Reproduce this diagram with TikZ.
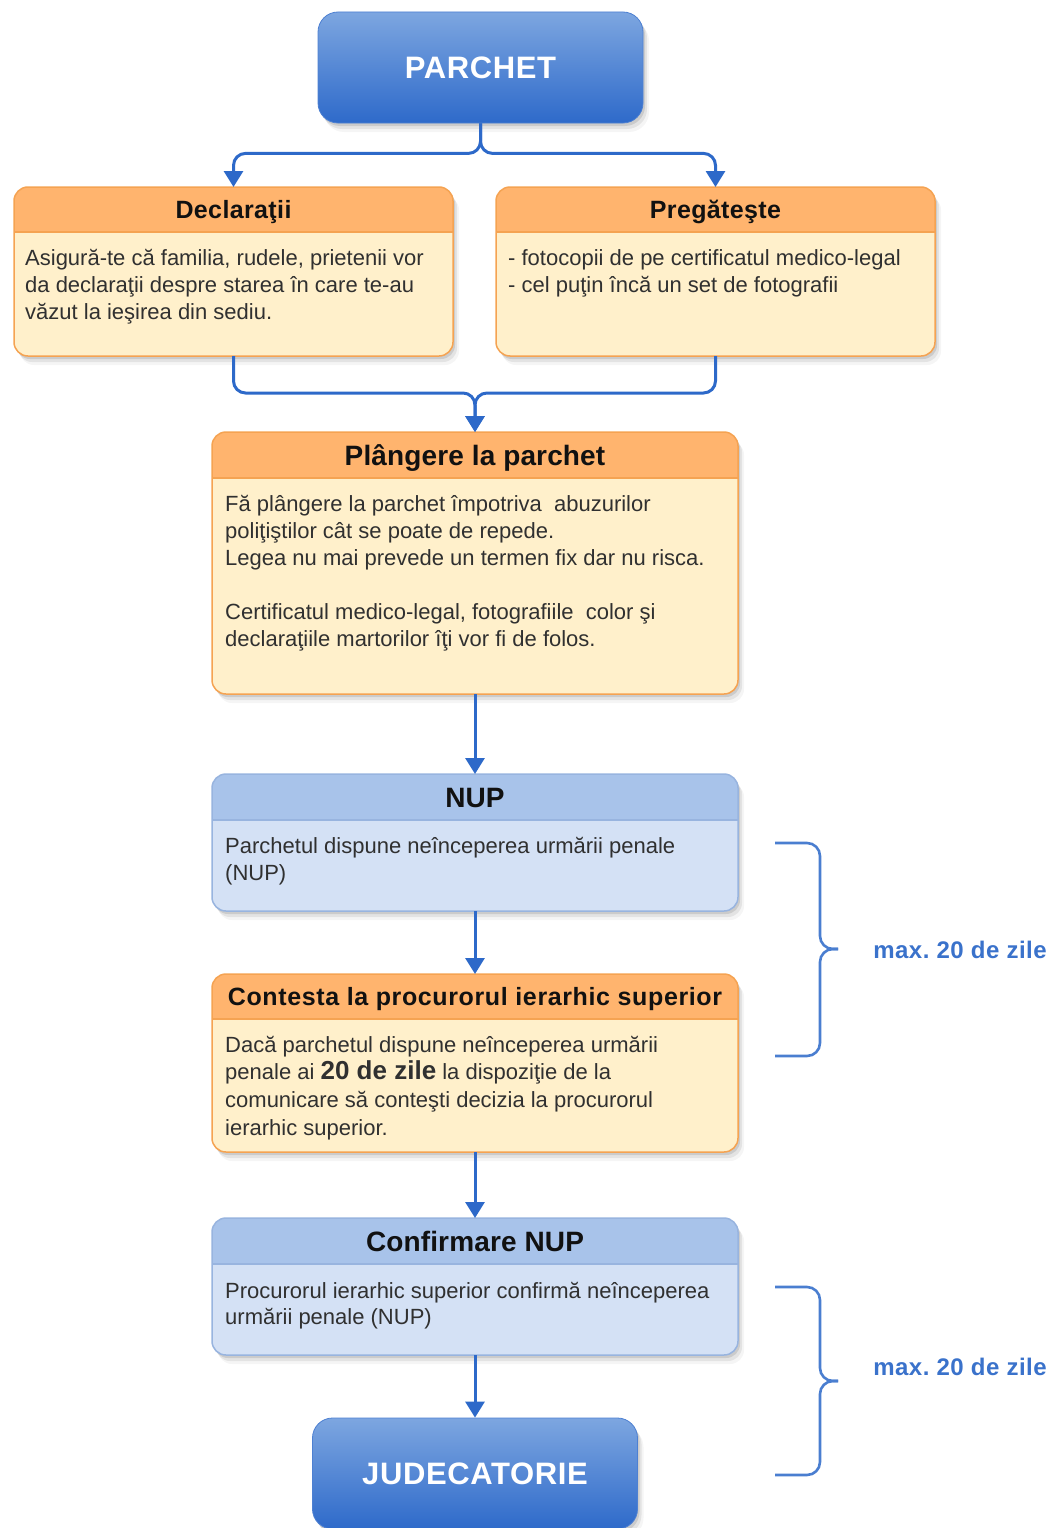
\documentclass[tikz,border=0pt]{standalone}
\usepackage{fontspec}
\setmainfont{Liberation Sans}
\newfontfamily\fhdrA[LetterSpace=1.5]{Liberation Sans}
\newfontfamily\fhdrB[LetterSpace=0.5]{Liberation Sans}
\newfontfamily\fhdrC[LetterSpace=2.5]{Liberation Sans}
\newfontfamily\fmaxlbl[LetterSpace=2]{Liberation Sans}
\newfontfamily\fbtn[LetterSpace=2]{Liberation Sans}
\usetikzlibrary{arrows.meta,shadows}

\definecolor{cblue}{HTML}{2D69C9}
\definecolor{btntop}{HTML}{7DA6E0}
\definecolor{btnbot}{HTML}{2E6ACA}
\definecolor{ohead}{HTML}{FFB46E}
\definecolor{obody}{HTML}{FFF0CB}
\definecolor{oline}{HTML}{F5A352}
\definecolor{bhead}{HTML}{A8C3EA}
\definecolor{bbody}{HTML}{D4E1F5}
\definecolor{bline}{HTML}{98B4DF}
\definecolor{bracec}{HTML}{4A7ED0}
\definecolor{maxc}{HTML}{3A72CB}
\definecolor{bodytxt}{HTML}{303030}
\definecolor{hdrtxt}{HTML}{111111}

\tikzset{
  softshadow/.style={
    general shadow={shadow xshift=2pt, shadow yshift=-3pt, fill=black, opacity=0.10},
    general shadow={shadow xshift=4pt, shadow yshift=-6pt, fill=black, opacity=0.07},
    general shadow={shadow xshift=6pt, shadow yshift=-9pt, fill=black, opacity=0.04}},
  lanebox/.style={rectangle, rounded corners=14pt, inner sep=0pt, outer sep=0pt, softshadow},
  btn/.style={rectangle, rounded corners=20pt, minimum width=325pt, minimum height=111pt,
    top color=btntop, bottom color=btnbot, draw=btnbot!85!white, line width=0.8pt,
    softshadow, text=white, font=\fbtn\fontsize{31}{36}\selectfont\bfseries, inner sep=0pt},
  conn/.style={draw=cblue, line width=3pt, -{Triangle[width=19pt,length=16pt]}},
  bracestyle/.style={draw=bracec, line width=2.6pt, rounded corners=13pt},
  hdrA/.style={font=\fhdrA\bfseries\fontsize{25}{28}\selectfont, text=hdrtxt, inner sep=0pt, anchor=base},
  hdrB/.style={font=\fhdrB\bfseries\fontsize{28}{30}\selectfont, text=hdrtxt, inner sep=0pt, anchor=base},
  hdrC/.style={font=\fhdrC\bfseries\fontsize{25}{28}\selectfont, text=hdrtxt, inner sep=0pt, anchor=base},
  bodytext/.style={font=\fontsize{22}{27}\selectfont, text=bodytxt, align=left, inner sep=0pt, anchor=north west},
  maxtxt/.style={font=\fmaxlbl\bfseries\fontsize{24}{26}\selectfont, text=maxc, inner sep=0pt}
}

% name, cx, cy, w, h, header height, colour prefix
\newcommand\mylane[7]{%
  \node[lanebox, fill=#7body, minimum width=#4pt, minimum height=#5pt] (#1) at (#2,#3) {};
  \begin{scope}
    \clip (#1.north west) rectangle ([yshift=-#6pt]#1.north east);
    \fill[#7head, rounded corners=14pt] (#1.north west) rectangle (#1.south east);
  \end{scope}
  \draw[#7line, line width=1.2pt] ([yshift=-#6pt]#1.north west) -- ([yshift=-#6pt]#1.north east);
  \draw[#7line, line width=1.5pt, rounded corners=14pt] (#1.north west) rectangle (#1.south east);
}

\begin{document}
\begin{tikzpicture}[x=1pt,y=-1pt]
\fill[white] (0,0) rectangle (1055,1528);
\useasboundingbox (0,0) rectangle (1055,1528);

% top button
\node[btn] (parchet) at (480.5,67.5) {PARCHET};

% lanes
\mylane{decl}{233.5}{271.5}{439}{169}{45}{o}
\mylane{preg}{715.5}{271.5}{439}{169}{45}{o}
\mylane{plg}{475}{563}{526}{262}{46}{o}
\mylane{nup}{475}{842.5}{526}{137}{46}{b}
\mylane{cont}{475}{1063}{526}{178}{45}{o}
\mylane{conf}{475}{1286.5}{526}{137}{46}{b}

% bottom button
\node[btn] (jud) at (475,1473.5) {JUDECATORIE};

% headers
\node[hdrA] (decl-h) at (233.5,218) {Declaraţii};
\node[hdrA] (preg-h) at (715.5,218) {Pregăteşte};
\node[hdrB] (plg-h) at (475,465) {Plângere la parchet};
\node[hdrB] (nup-h) at (475,807) {NUP};
\node[hdrC] (cont-h) at (475,1005) {Contesta la procurorul ierarhic superior};
\node[hdrB] (conf-h) at (475,1251) {Confirmare NUP};

% bodies
\node[bodytext] (decl-b) at (25,248) {\rule{0pt}{17pt}Asigură-te că familia, rudele, prietenii vor\\da declaraţii despre starea în care te-au\\văzut la ieşirea din sediu.};
\node[bodytext] (preg-b) at (508,248) {\rule{0pt}{17pt}- fotocopii de pe certificatul medico-legal\\- cel puţin încă un set de fotografii};
\node[bodytext] (plg-b) at (225,494) {\rule{0pt}{17pt}Fă plângere la parchet împotriva\ \ abuzurilor\\poliţiştilor cât se poate de repede.\\Legea nu mai prevede un termen fix dar nu risca.\\[27pt]Certificatul medico-legal, fotografiile\ \ color şi\\declaraţiile martorilor îţi vor fi de folos.};
\node[bodytext] (nup-b) at (225,836) {\rule{0pt}{17pt}Parchetul dispune neînceperea urmării penale\\(NUP)};
\node[bodytext, font=\fontsize{22}{27.7}\selectfont] (cont-b) at (225,1035) {\rule{0pt}{17pt}Dacă parchetul dispune neînceperea urmării\\penale ai {\bfseries\fontsize{26}{27.7}\selectfont 20 de zile} la dispoziţie de la\\comunicare să conteşti decizia la procurorul\\ierarhic superior.};
\node[bodytext, font=\fontsize{22}{26}\selectfont] (conf-b) at (225,1281) {\rule{0pt}{17pt}Procurorul ierarhic superior confirmă neînceperea\\urmării penale (NUP)};

% connectors
\draw[conn, rounded corners=12pt] (parchet.south) -- ++(0,30) -| (decl.north);
\draw[conn, rounded corners=12pt] (parchet.south) -- ++(0,30) -| (preg.north);
\draw[conn, rounded corners=12pt] (decl.south) -- ++(0,37) -| (plg.north);
\draw[conn, rounded corners=12pt] (preg.south) -- ++(0,37) -| (plg.north);
\draw[conn] (plg.south) -- (nup.north);
\draw[conn] (nup.south) -- (cont.north);
\draw[conn] (cont.south) -- (conf.north);
\draw[conn] (conf.south) -- (jud.north);

% braces
\coordinate (br1a) at (775,843);
\coordinate (br1b) at (820,843);
\coordinate (br1m) at (820,949);
\coordinate (br1t) at (838,949);
\coordinate (br1c) at (820,1056);
\coordinate (br1d) at (775,1056);
\draw[bracestyle] (br1a) -- (br1b) -- (br1m) -- (br1t);
\draw[bracestyle] (br1t) -- (br1m) -- (br1c) -- (br1d);
\node[maxtxt] (lbl1) at (960,950) {max.\ 20 de zile};

\coordinate (br2a) at (775,1287);
\coordinate (br2b) at (820,1287);
\coordinate (br2m) at (820,1381);
\coordinate (br2t) at (838,1381);
\coordinate (br2c) at (820,1475);
\coordinate (br2d) at (775,1475);
\draw[bracestyle] (br2a) -- (br2b) -- (br2m) -- (br2t);
\draw[bracestyle] (br2t) -- (br2m) -- (br2c) -- (br2d);
\node[maxtxt] (lbl2) at (960,1367) {max.\ 20 de zile};
\end{tikzpicture}
\end{document}
